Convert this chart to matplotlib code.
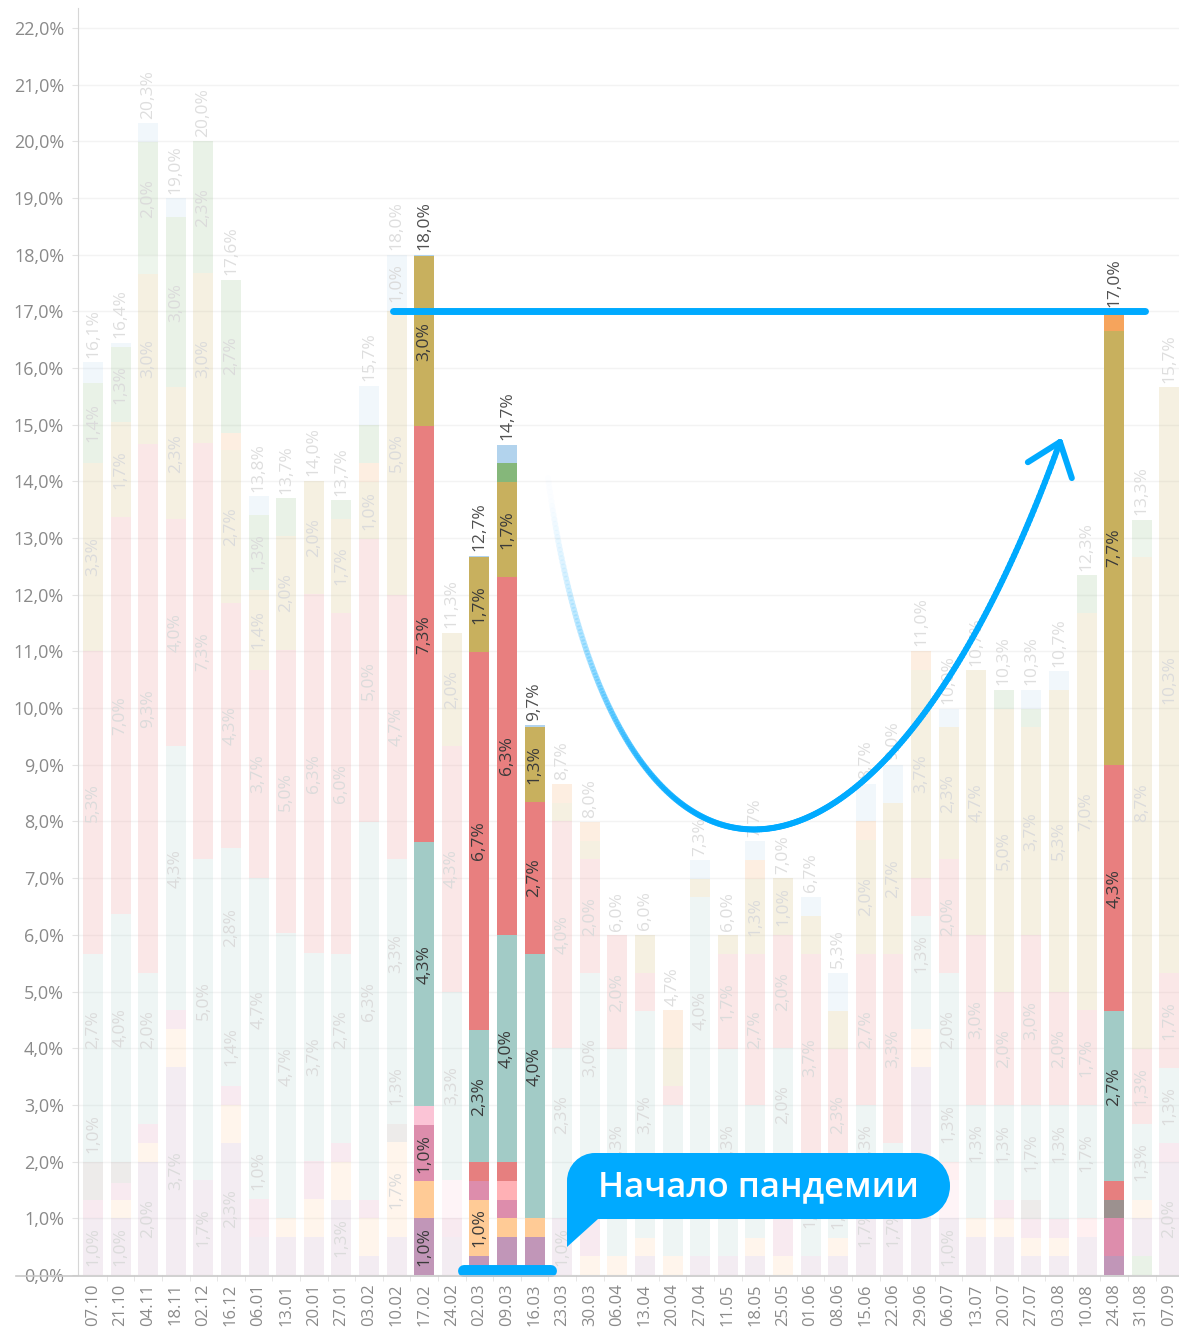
import numpy as np
import matplotlib.pyplot as plt
from matplotlib.path import Path
from matplotlib.patches import PathPatch
from matplotlib.collections import LineCollection
from matplotlib.colors import to_rgba

plt.rcParams['font.family'] = ['Open Sans', 'DejaVu Sans']

W, H = 1179, 1330

dates = ["07.10", "21.10", "04.11", "18.11", "02.12", "16.12", "06.01", "13.01", "20.01", "27.01",
         "03.02", "10.02", "17.02", "24.02", "02.03", "09.03", "16.03", "23.03", "30.03", "06.04",
         "13.04", "20.04", "27.04", "11.05", "18.05", "25.05", "01.06", "08.06", "15.06", "22.06",
         "29.06", "06.07", "13.07", "20.07", "27.07", "03.08", "10.08", "24.08", "31.08", "07.09"]

totals = [16.1, 16.4, 20.3, 19.0, 20.0, 17.6, 13.8, 13.7, 14.0, 13.7, 15.7, 18.0, 18.0, 11.3, 12.7,
          14.7, 9.7, 8.7, 8.0, 6.0, 6.0, 4.7, 7.3, 6.0, 7.7, 7.0, 6.7, 5.3, 8.7, 9.0, 11.0, 10.0,
          10.7, 10.3, 10.3, 10.7, 12.3, 17.0, 13.3, 15.7]

# bars shown in full colour
highlight = [12, 14, 15, 16, 37]

def sparse(d):
    return [d.get(i, 0) for i in range(40)]

# stacked segments, bottom to top
g0 = sparse({38: .33})
purple = [1.0, 1.0, 2.0, 3.67, 1.67, 2.33, .67, .67, .67, 1.33, .33, .67, 1.0, .67, .33, .67, .67, 1.0, 0, 0,
          .33, 0, .33, .33, .33, 0, .33, .33, 1.67, 1.67, 3.67, 1.0, .67, .67, .33, .33, .67, .33, .67, 2.0]
peach = [0, .33, .33, .67, 0, .67, 0, .33, .67, .67, .67, 1.67, .65, 0, 1.0, .33, .33, 0, .33, .33,
         .33, .33, 0, 0, .33, .33, 0, .33, 0, .33, .67, 0, .33, .33, .33, .33, 0, 0, .33, 0]
pink = [.33, .3, .33, .33, 0, .33, .67, 0, .67, .33, .33, 0, 1.0, .33, .33, .33, 0, 0, .67, 0,
        0, 0, 0, 0, 0, .67, 0, 0, 0, 0, 0, 0, 0, .33, .33, .33, 0, .67, 0, .33]
gray = sparse({0: .67, 1: .37, 11: .33, 34: .33, 37: .33})
lightpink = sparse({12: .33, 13: .67, 31: .67})
salmon = sparse({15: .33, 31: .33, 36: .33})
redsmall = sparse({14: .33, 15: .33, 37: .33})
teal1 = [1.0, .37, .67, .33, .67, 1.4, 1.0, .33, 0, .67, .33, 1.33, .33, 0, 0, 0, .67, .67, 1.33, .33,
         .33, 0, 2.33, .33, 0, 1.0, 0, 0, 0, 0, .67, 1.33, .67, .33, 0, .67, .33, .33, 0, 0]
teal2 = [2.67, 4.0, 2.0, 4.33, 5.0, 2.8, 4.67, 4.7, 3.67, 2.67, 6.33, 3.33, 4.33, 3.33, 2.33, 4.0, 4.0, 2.33, 3.0, 3.33,
         3.67, 2.67, 4.0, 3.33, 2.33, 2.0, 1.67, 1.0, 1.33, .33, 1.33, 2.0, 1.33, 1.33, 1.67, 1.33, 1.67, 2.67, 1.33, 1.33]
red = [5.33, 7.0, 9.33, 4.0, 7.33, 4.33, 3.67, 5.0, 6.33, 6.0, 5.0, 4.67, 7.33, 4.33, 6.67, 6.33, 2.67, 4.0, 2.0, 2.0,
       .67, .33, 0, 1.67, 2.67, 2.0, 3.67, 2.33, 2.67, 3.33, .67, 2.0, 3.0, 2.0, 3.0, 2.0, 1.67, 4.33, 1.33, 1.67]
olive = [3.33, 1.67, 3.0, 2.33, 3.0, 2.7, 1.4, 2.0, 2.0, 1.67, 1.0, 5.0, 3.0, 2.0, 1.67, 1.67, 1.33, .33, .33, 0,
         .67, .67, .33, .33, 1.33, 1.0, .67, .67, 2.0, 2.67, 3.67, 2.33, 4.67, 5.0, 3.67, 5.33, 7.0, 7.67, 8.67, 10.33]
lightgreen = sparse({2: .33, 38: .33})
orange = sparse({5: .3, 10: .33, 17: .33, 18: .33, 21: .67, 24: .33, 28: .33, 30: .33, 37: .33})
green = [1.4, 1.33, 2.0, 3.0, 2.33, 2.7, 1.33, .67, 0, .33, .67, 0, 0, 0, 0, .33, 0, 0, 0, 0,
         0, 0, 0, 0, 0, 0, 0, 0, 0, 0, 0, 0, 0, .33, .33, 0, .67, 0, .33, 0]
lightblue = [.37, .07, .33, .33, 0, 0, .33, 0, 0, 0, .7, 1.0, .03, 0, .03, .33, .03, 0, 0, 0,
             0, 0, .33, 0, .33, 0, .33, .67, .67, .67, 0, .33, 0, 0, .33, .33, 0, 0, 0, 0]

series = [
    (g0, "#85B77A"), (purple, "#C196B8"), (peach, "#FFCB96"), (pink, "#DD8DAC"),
    (gray, "#9C918F"), (lightpink, "#FBC4D6"), (salmon, "#FFB1B5"), (redsmall, "#E67F7F"),
    (teal1, "#A2CBC6"), (teal2, "#A2CBC6"), (red, "#E87F7F"), (olive, "#C8B05E"),
    (lightgreen, "#A0C896"), (orange, "#F6A45C"), (green, "#85B77A"), (lightblue, "#B2D3ED"),
]

BLUE = "#00AAFF"


def fmt(v):
    return f"{v:.1f}".replace(".", ",") + "%"


fig = plt.figure(figsize=(W / 100, H / 100), dpi=100)
ax = fig.add_axes([78 / W, 1 - 1275 / H, 1 - 78 / W, (1275 - 8) / H])

x = np.arange(len(dates))
bottom = np.zeros(len(dates))
for vals, color in series:
    vals = np.array(vals, dtype=float)
    cols = [to_rgba(color, 1.0 if i in highlight else 0.18) for i in x]
    ax.bar(x, vals, bottom=bottom, width=0.725, color=cols, linewidth=0, zorder=2)
    for i in x:
        if vals[i] >= 0.95:
            hl = i in highlight
            ax.text(i, bottom[i] + vals[i] / 2, fmt(vals[i]), rotation=90, ha="center", va="center",
                    fontsize=12.5, color="#3A3A3A" if hl else "#DBDBDB", zorder=3)
    bottom += vals

for i in x:
    hl = i in highlight
    ax.text(i, bottom[i] + 0.08, fmt(totals[i]), rotation=90, ha="center", va="bottom",
            fontsize=12.5, color="#505050" if hl else "#DEDEDE", zorder=3)

ax.set_xlim(-0.543, 39.35)
ax.set_ylim(0, 22.35)
ax.set_yticks(range(0, 23))
ax.set_yticklabels([fmt(v) for v in range(0, 23)])
ax.set_xticks(x)
ax.set_xticklabels(dates, rotation=90)
ax.set_xticks(x[:-1] + 0.5, minor=True)
ax.tick_params(axis="y", length=4, color="#E3E3E3", pad=6, labelsize=13, labelcolor="#8A8A8A")
ax.tick_params(axis="x", which="major", length=0, pad=6, labelsize=12, labelcolor="#8A8A8A")
ax.tick_params(axis="x", which="minor", length=4, color="#E3E3E3")
ax.grid(axis="y", color="#F3F3F3", linewidth=1, zorder=0)
ax.set_axisbelow(True)
for s in ["top", "right", "bottom"]:
    ax.spines[s].set_visible(False)
ax.spines["left"].set_color("#D6D6D6")

# 17% reference line and the pandemic marker under the bars
ax.plot([10.87, 38.12], [17.0, 17.0], color=BLUE, lw=5, solid_capstyle="round", zorder=5, clip_on=False)
ax.plot([13.44, 16.59], [0.07, 0.07], color=BLUE, lw=8.6, solid_capstyle="round", zorder=5, clip_on=False)

# overlay in pixel coordinates for the annotations
ov = fig.add_axes([0, 0, 1, 1])
ov.set_xlim(0, W)
ov.set_ylim(H, 0)
ov.axis("off")
ov.patch.set_visible(False)

ov.plot([16, W], [1275.5, 1275.5], color="#C8C8C8", lw=1.2, zorder=1)

# curved arrow with fading tail
p0, p1, p2, p3 = map(np.array, [(548, 478), (612, 950), (875, 955), (1060, 442)])
t = np.linspace(0, 1, 300)[:, None]
curve = (1 - t) ** 3 * p0 + 3 * (1 - t) ** 2 * t * p1 + 3 * (1 - t) * t ** 2 * p2 + t ** 3 * p3
segs = np.stack([curve[:-1], curve[1:]], axis=1)
alphas = np.clip(t[:-1, 0] / 0.5, 0.02, 1.0) ** 1.3
lc = LineCollection(segs, colors=[to_rgba(BLUE, a) for a in alphas], linewidths=4.3, capstyle="round")
ov.add_collection(lc)
d = (p2 - p3) / np.linalg.norm(p2 - p3)
for ang in (np.radians(38), np.radians(-38)):
    rot = np.array([[np.cos(ang), -np.sin(ang)], [np.sin(ang), np.cos(ang)]])
    end = p3 + rot @ d * 38
    ov.plot([p3[0], end[0]], [p3[1], end[1]], color=BLUE, lw=4.3, solid_capstyle="round")

# callout bubble
x0, x1, y0, y1 = 567, 950, 1153, 1219
r = 28
rr = (y1 - y0) / 2
k = 0.5523
verts = [
    (x0 + r, y0), (x1 - rr, y0),
    (x1 - rr + k * rr, y0), (x1, y0 + rr - k * rr), (x1, y0 + rr),
    (x1, y0 + rr + k * rr), (x1 - rr + k * rr, y1), (x1 - rr, y1),
    (598, y1), (x0, 1247), (x0, y0 + r),
    (x0, y0 + r - k * r), (x0 + r - k * r, y0), (x0 + r, y0),
]
codes = [Path.MOVETO, Path.LINETO,
         Path.CURVE4, Path.CURVE4, Path.CURVE4,
         Path.CURVE4, Path.CURVE4, Path.CURVE4,
         Path.LINETO, Path.LINETO, Path.LINETO,
         Path.CURVE4, Path.CURVE4, Path.CURVE4]
ov.add_patch(PathPatch(Path(verts, codes), facecolor=BLUE, edgecolor="none", zorder=6))
ov.text(758, 1187, "Начало пандемии", color="white", fontsize=25, fontweight="semibold",
        ha="center", va="center", zorder=7)

fig.savefig("out.png", dpi=100)
